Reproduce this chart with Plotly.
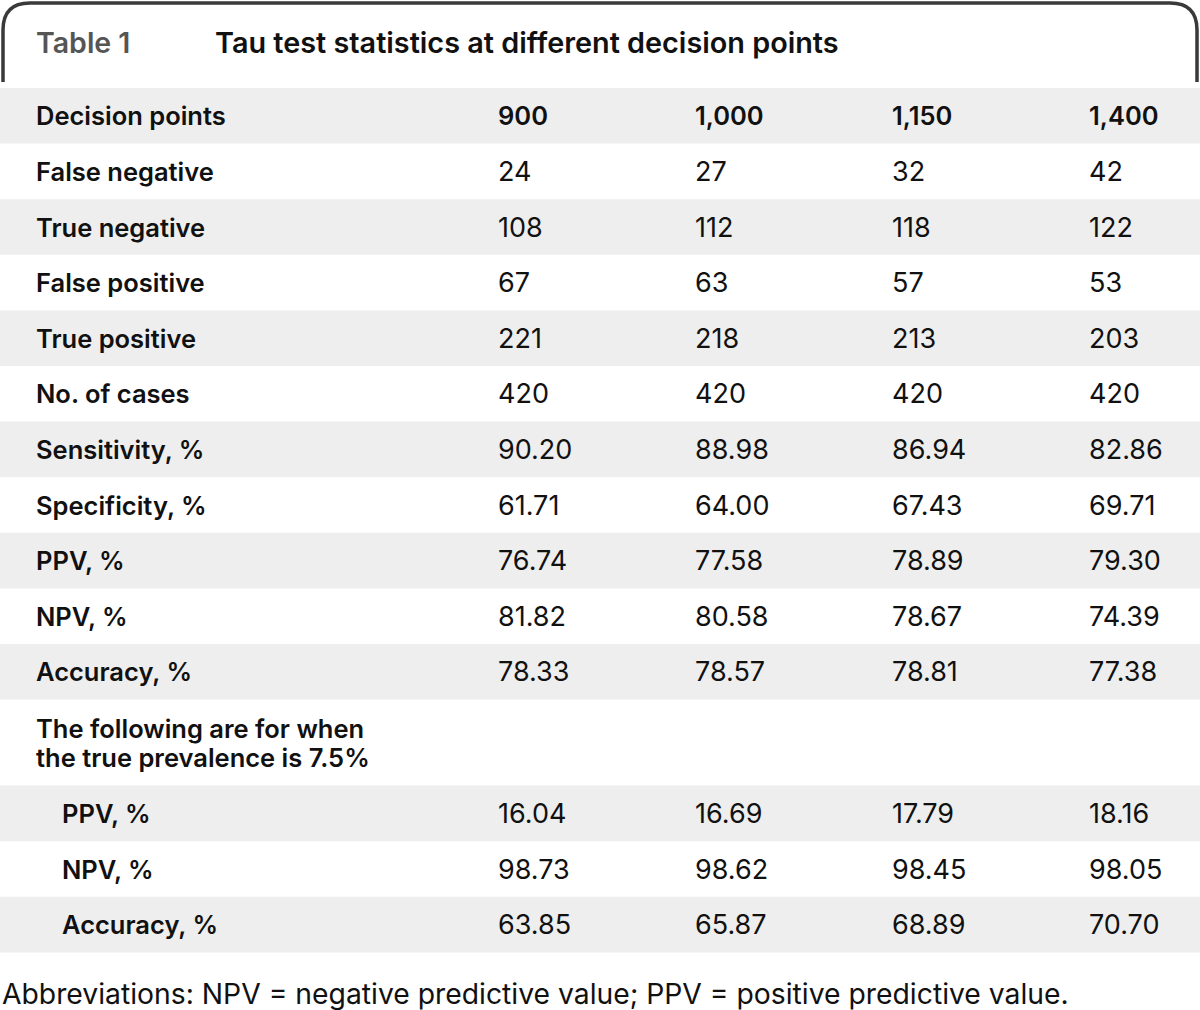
import plotly.graph_objects as go

# ---- data ----
table_label = "Table 1"
title = "Tau test statistics at different decision points"
header_label = "Decision points"
decision_points = ["900", "1,000", "1,150", "1,400"]

row_labels = [
    "False negative", "True negative", "False positive", "True positive",
    "No. of cases", "Sensitivity, %", "Specificity, %", "PPV, %", "NPV, %",
    "Accuracy, %",
    "The following are for when<br>the true prevalence is 7.5%",
    "PPV, %", "NPV, %", "Accuracy, %",
]
row_indent = [0, 0, 0, 0, 0, 0, 0, 0, 0, 0, 0, 1, 1, 1]
row_lines = [1, 1, 1, 1, 1, 1, 1, 1, 1, 1, 2, 1, 1, 1]

col_900 = ["24", "108", "67", "221", "420", "90.20", "61.71", "76.74", "81.82", "78.33", "", "16.04", "98.73", "63.85"]
col_1000 = ["27", "112", "63", "218", "420", "88.98", "64.00", "77.58", "80.58", "78.57", "", "16.69", "98.62", "65.87"]
col_1150 = ["32", "118", "57", "213", "420", "86.94", "67.43", "78.89", "78.67", "78.81", "", "17.79", "98.45", "68.89"]
col_1400 = ["42", "122", "53", "203", "420", "82.86", "69.71", "79.30", "74.39", "77.38", "", "18.16", "98.05", "70.70"]

footnote = "Abbreviations: NPV = negative predictive value; PPV = positive predictive value."

# ---- layout constants ----
W, H = 1200, 1010
FONT = "Inter"
FS_LABEL = 25.5
FS_VAL = 27
TEXT = "#111111"
BAND = "#eeeeee"
ROW_H = 55.6
TALL_H = 86
LINE_GAP = 29
TOP = 88
LABEL_X = 34
INDENT_X = 60
COL_X = [496, 693, 890, 1087]

columns = [col_900, col_1000, col_1150, col_1400]

fig = go.Figure()
shapes = []
annotations = []

# tab outline
shapes.append(dict(
    type="path",
    path="M 3 82 L 3 30 Q 3 3 30 3 L 1170 3 Q 1197 3 1197 30 L 1197 82",
    line=dict(color="#3a3a3a", width=3.5), xref="x", yref="y"))

annotations.append(dict(x=34, y=42, text=table_label, xanchor="left", yanchor="middle",
                        showarrow=False, font=dict(family=FONT, size=28.5, color="#555555", weight=600)))
annotations.append(dict(x=213, y=42, text=title, xanchor="left", yanchor="middle",
                        showarrow=False, font=dict(family=FONT, size=28.8, color=TEXT, weight=600)))

# header row
y0 = TOP
shapes.append(dict(type="rect", x0=0, x1=W, y0=y0, y1=y0 + ROW_H, fillcolor=BAND,
                   line=dict(width=0), layer="below", xref="x", yref="y"))
yc = y0 + ROW_H / 2
annotations.append(dict(x=LABEL_X, y=yc, text=header_label, xanchor="left", yanchor="middle",
                        showarrow=False, font=dict(family=FONT, size=FS_LABEL, color=TEXT, weight=600)))
for cx, dp in zip(COL_X, decision_points):
    annotations.append(dict(x=cx, y=yc, text=dp, xanchor="left", yanchor="middle",
                            showarrow=False, font=dict(family=FONT, size=FS_LABEL, color=TEXT, weight=600)))
y0 += ROW_H

for i, lab in enumerate(row_labels):
    h = ROW_H if row_lines[i] == 1 else TALL_H
    if (i + 1) % 2 == 0:
        shapes.append(dict(type="rect", x0=0, x1=W, y0=y0, y1=y0 + h, fillcolor=BAND,
                           line=dict(width=0), layer="below", xref="x", yref="y"))
    yc = y0 + h / 2
    lx = INDENT_X if row_indent[i] else LABEL_X
    parts = lab.split("<br>")
    n = len(parts)
    for k, part in enumerate(parts):
        ly = yc + (k - (n - 1) / 2) * LINE_GAP
        annotations.append(dict(x=lx, y=ly, text=part, xanchor="left", yanchor="middle", align="left",
                                showarrow=False, font=dict(family=FONT, size=FS_LABEL, color=TEXT, weight=600)))
    for cx, col in zip(COL_X, columns):
        if col[i]:
            annotations.append(dict(x=cx, y=yc, text=col[i], xanchor="left", yanchor="middle",
                                    showarrow=False, font=dict(family=FONT, size=FS_VAL, color=TEXT, weight=400)))
    y0 += h

annotations.append(dict(x=0, y=994, text=footnote, xanchor="left", yanchor="middle",
                        showarrow=False, font=dict(family=FONT, size=28.3, color=TEXT, weight=400)))

fig.update_layout(
    width=W, height=H, margin=dict(l=0, r=0, t=0, b=0),
    paper_bgcolor="white", plot_bgcolor="white",
    xaxis=dict(range=[0, W], visible=False, fixedrange=True),
    yaxis=dict(range=[H, 0], visible=False, fixedrange=True),
    shapes=shapes, annotations=annotations, showlegend=False,
)
fig.write_html(
    "out.html",
    config={"displayModeBar": False},
    post_script="document.body.style.margin='0';document.body.style.overflow='hidden';",
)
